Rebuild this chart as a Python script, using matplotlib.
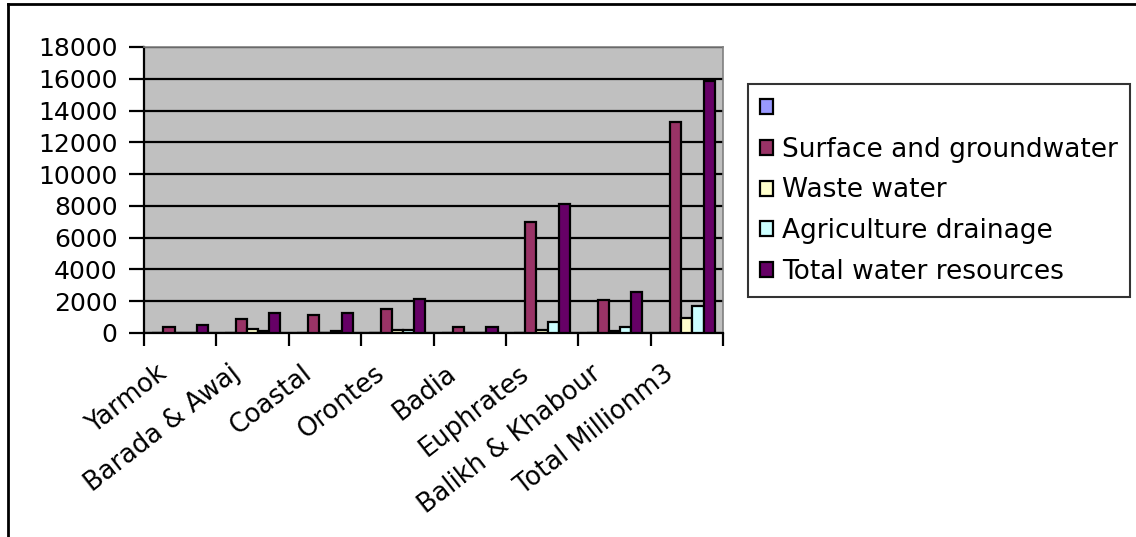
import matplotlib
matplotlib.use("Agg")
import matplotlib.pyplot as plt
import matplotlib.transforms as mtransforms
from matplotlib.lines import Line2D
import numpy as np

# Water resources by basin (million m3)
basins = ["Yarmok", "Barada & Awaj", "Coastal", "Orontes", "Badia",
          "Euphrates", "Balikh & Khabour", "Total Millionm3"]
blank_series = [0, 0, 0, 0, 0, 0, 0, 0]
surface_groundwater = [370, 860, 1140, 1480, 360, 7000, 2070, 13300]
waste_water = [0, 250, 0, 200, 0, 200, 100, 950]
agriculture_drainage = [0, 100, 100, 200, 0, 700, 360, 1700]
total_resources = [520, 1250, 1250, 2130, 360, 8150, 2580, 15870]

series_names = [" ", "Surface and groundwater", "Waste water",
                "Agriculture drainage", "Total water resources"]
series_values = [blank_series, surface_groundwater, waste_water,
                 agriculture_drainage, total_resources]
series_colors = ["#9999FF", "#993366", "#FFFFCC", "#CCFFFF", "#660066"]

y_ticks = list(range(0, 18001, 2000))

W, H = 1136, 537
fig = plt.figure(figsize=(W / 100, H / 100), dpi=100)
fig.patch.set_facecolor("white")

# outer chart frame (top and left edges)
fig.add_artist(Line2D([8 / W, 8 / W], [0, 1 - 4 / H], transform=fig.transFigure,
                      color="black", lw=2))
fig.add_artist(Line2D([8 / W, 1], [1 - 4 / H, 1 - 4 / H], transform=fig.transFigure,
                      color="black", lw=2))

ax = fig.add_axes([144 / W, 1 - 333 / H, 579 / W, 286 / H])
ax.set_facecolor("#C0C0C0")

n = len(basins)
x = np.arange(n)
slot = 1 / 6.5
handles = []
for j, (name, vals, col) in enumerate(zip(series_names, series_values, series_colors)):
    b = ax.bar(x + (j - 2) * slot, vals, width=slot, color=col,
               edgecolor="black", linewidth=1.6, label=name, zorder=3)
    handles.append(b)

ax.set_xlim(-0.5, n - 0.5)
ax.set_ylim(0, 18000)
ax.set_yticks(y_ticks)
ax.yaxis.grid(True, color="black", linewidth=1.6, zorder=1)
ax.set_axisbelow(True)

# category boundaries as major ticks, names on minor ticks
ax.set_xticks(np.arange(n + 1) - 0.5)
ax.set_xticklabels([])
ax.set_xticks(x, basins, minor=True)
ax.tick_params(axis="x", which="major", length=9, width=1.6, color="black",
               direction="out")
ax.tick_params(axis="x", which="minor", length=0, pad=27, labelsize=18.5)
ax.tick_params(axis="y", length=11, width=1.6, pad=8, labelsize=18)
offset = mtransforms.ScaledTranslation(-16 / 100, 0, fig.dpi_scale_trans)
for lab in ax.get_xticklabels(minor=True):
    lab.set_rotation(38)
    lab.set_ha("right")
    lab.set_va("center")
    lab.set_rotation_mode("anchor")
    lab.set_transform(lab.get_transform() + offset)

for side in ("top", "right"):
    ax.spines[side].set_color("#808080")
    ax.spines[side].set_linewidth(1.2)
for side in ("left", "bottom"):
    ax.spines[side].set_color("black")
    ax.spines[side].set_linewidth(1.6)

leg = fig.legend(handles=handles, labels=series_names, loc="upper left",
                 bbox_to_anchor=(748 / W, 1 - 84 / H), borderaxespad=0,
                 fontsize=19, frameon=True, fancybox=False, edgecolor="black",
                 handlelength=0.5, handleheight=0.5, handletextpad=0.35,
                 labelspacing=0.56, borderpad=0.45)
leg.get_frame().set_linewidth(1.5)

fig.savefig("out.png", dpi=100)
